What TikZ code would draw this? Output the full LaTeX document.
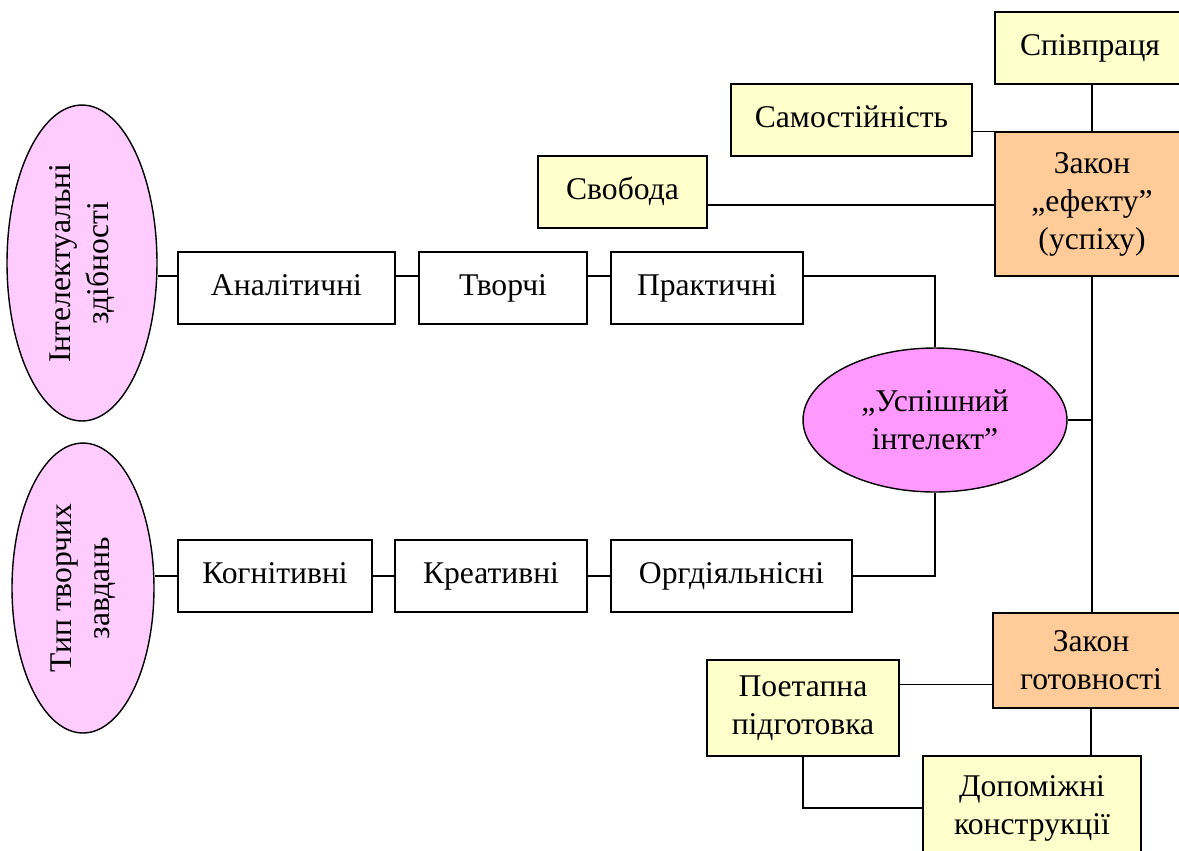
\documentclass[tikz,border=0pt]{standalone}
\usepackage{fontspec}
\setmainfont{Liberation Serif}
\usetikzlibrary{shapes.geometric,calc}

\definecolor{lightyellow}{HTML}{FFFFCC}
\definecolor{lightorange}{HTML}{FFCC99}
\definecolor{lightpink}{HTML}{FFCCFF}
\definecolor{brightpink}{HTML}{FF99FF}

\tikzset{
  box/.style={draw,line width=0.8pt,rectangle,align=center,inner sep=2pt,
    minimum height=1.44cm,text height=0.45cm,text depth=0.15cm},
  factor/.style={box,fill=lightyellow},
  law/.style={box,fill=lightorange,text height=,text depth=},
  oval/.style={draw,line width=0.8pt,ellipse,align=center,inner sep=0pt},
  link/.style={line width=0.8pt}
}

\begin{document}
\begin{tikzpicture}[x=0.02cm,y=-0.02cm,font=\fontsize{18}{21.6}\selectfont]
\useasboundingbox (0,0) rectangle (1179,850);

% laws and conditions
\node[factor,minimum width=3.8cm] (coop) at (1090,48) {Співпраця};
\node[factor,minimum width=4.82cm] (indep) at (851.5,120) {Самостійність};
\node[factor,minimum width=3.38cm] (freedom) at (622.5,192) {Свобода};
\node[law,minimum width=3.88cm,minimum height=2.88cm] (effect) at (1092,204) {Закон\\„ефекту”\\(успіху)};
\node[law,minimum width=3.92cm,minimum height=1.9cm] (ready) at (1091,660.5) {Закон\\готовності};
\node[factor,minimum width=3.84cm,minimum height=1.92cm,text height=,text depth=] (stages) at (803,708) {Поетапна\\підготовка};
\node[factor,minimum width=4.36cm,minimum height=2.08cm,text height=,text depth=] (aux) at (1032,808) {Допоміжні\\конструкції};

% intelligence
\node[oval,fill=brightpink,minimum width=5.28cm,minimum height=2.88cm] (success) at (935,420) {„Успішний\\інтелект”};
\node[oval,fill=lightpink,minimum width=3cm,minimum height=6.32cm] (intel) at (82,263)
  {\rotatebox{90}{\begin{tabular}{@{}c@{}}Інтелектуальні\\здібності\end{tabular}}};
\node[oval,fill=lightpink,minimum width=2.84cm,minimum height=5.8cm] (type) at (83,588)
  {\rotatebox{90}{\begin{tabular}{@{}c@{}}Тип творчих\\завдань\end{tabular}}};

% abilities
\node[box,minimum width=4.34cm] (analyt) at (286.5,288) {Аналітичні};
\node[box,minimum width=3.36cm] (creat) at (503,288) {Творчі};
\node[box,minimum width=3.84cm] (pract) at (707,288) {Практичні};

% task types
\node[box,minimum width=3.88cm] (cogn) at (275,576) {Когнітивні};
\node[box,minimum width=3.84cm] (creative) at (491,576) {Креативні};
\node[box,minimum width=4.82cm] (orgact) at (731.5,576) {Оргдіяльнісні};

% connector ends off the node centres
\coordinate (freeOut) at ($(freedom.east)+(0,13)$);
\coordinate (analytIn) at ($(analyt.west)+(0,-12)$);
\coordinate (analytOut) at ($(analyt.east)+(0,-12)$);
\coordinate (creatIn) at ($(creat.west)+(0,-12)$);
\coordinate (creatOut) at ($(creat.east)+(0,-12)$);
\coordinate (practIn) at ($(pract.west)+(0,-12)$);
\coordinate (practOut) at ($(pract.east)+(0,-12)$);
\coordinate (readyIn) at ($(ready.west)+(0,24)$);

% connectors
\draw[link] (effect.north) -- (effect.north |- coop.south);
\draw[link] (effect.north west) -- (effect.north west -| indep.east);
\draw[link] (freeOut) -- (freeOut -| effect.west);
\draw[link] (effect.south) -- (effect.south |- ready.north);
\draw[link] (success.east) -- (success.east -| effect.south);
\draw[link] (practOut) -| (success.north);
\draw[link] (orgact.east) -| (success.south);
\draw[link] (analytIn) -- (analytIn -| intel.east);
\draw[link] (analytOut) -- (creatIn);
\draw[link] (creatOut) -- (practIn);
\draw[link] (cogn.west) -- (cogn.west -| type.east);
\draw[link] (cogn.east) -- (creative.west);
\draw[link] (creative.east) -- (orgact.west);
\draw[link] (readyIn) -- (readyIn -| stages.east);
\draw[link] (ready.south) -- (ready.south |- aux.north);
\draw[link] (stages.south) |- (aux.west);
\end{tikzpicture}
\end{document}
